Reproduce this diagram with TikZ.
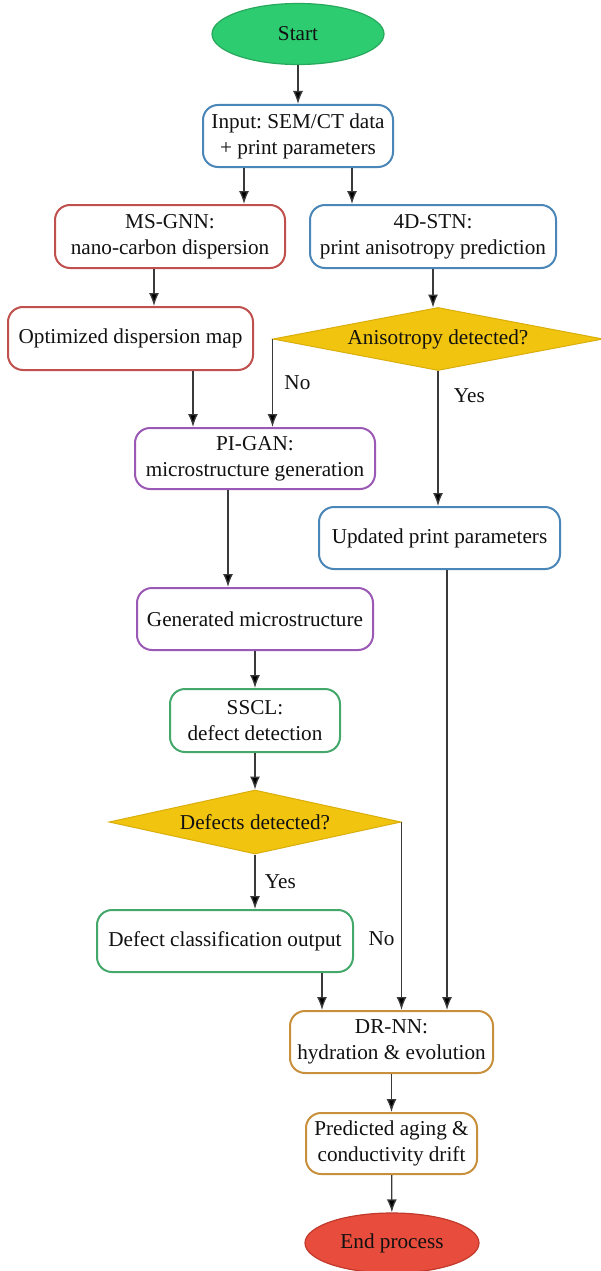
\documentclass[tikz,border=0pt]{standalone}
\usepackage{fontspec}
\setmainfont{Liberation Serif}
\usetikzlibrary{shapes.geometric,arrows.meta}
\definecolor{cblue}{HTML}{4A86B8}
\definecolor{cred}{HTML}{C0504D}
\definecolor{cpurple}{HTML}{9B59B6}
\definecolor{cgreen}{HTML}{45A86B}
\definecolor{corange}{HTML}{C8903C}
\definecolor{cyellow}{HTML}{F1C40F}
\definecolor{cyellowd}{HTML}{D9AE0C}
\definecolor{cstart}{HTML}{2ECC71}
\definecolor{cstartd}{HTML}{27A85C}
\definecolor{cend}{HTML}{E74C3C}
\definecolor{cendd}{HTML}{C0392B}
\definecolor{ctext}{HTML}{111111}
\definecolor{cline}{HTML}{3A3A3A}
\tikzset{
  every node/.style={font=\fontsize{21.2}{26}\selectfont\frenchspacing, text=ctext, align=center},
  box/.style={draw, rounded corners=15pt, line width=2pt, fill=white, inner sep=0pt},
  term/.style={ellipse, draw, line width=1.2pt, inner sep=0pt},
  decision/.style={diamond, draw=cyellowd, fill=cyellow, line width=1pt, inner sep=0pt},
  arr/.style={draw=cline, line width=1.3pt, -{Latex[length=13pt,width=10pt,fill=black]}},
  lbl/.style={font=\fontsize{21.2}{26}\selectfont}
}
\begin{document}
\begin{tikzpicture}[x=1pt,y=-1pt]
\useasboundingbox (0,0) rectangle (601,1271);
% nodes
\node[term, fill=cstart, draw=cstartd, minimum width=172, minimum height=61] (start) at (298,34) {Start};
\node[box, draw=cblue, minimum width=190, minimum height=62] (input) at (298,136) {Input: SEM/CT data\\+ print parameters};
\node[box, draw=cred, minimum width=230, minimum height=63] (msgnn) at (170,236.5) {MS-GNN:\\nano-carbon dispersion};
\node[box, draw=cblue, minimum width=246, minimum height=63] (stn) at (433,236.5) {4D-STN:\\print anisotropy prediction};
\node[box, draw=cred, minimum width=245, minimum height=63] (opt) at (130.5,338.5) {Optimized dispersion map};
\node[decision, minimum width=330, minimum height=63] (an) at (438,339) {};
\node (antext) at (an) {Anisotropy detected?};
\node[box, draw=cpurple, minimum width=240, minimum height=61] (pigan) at (255,458.5) {PI-GAN:\\microstructure generation};
\node[box, draw=cblue, minimum width=241, minimum height=62] (upd) at (439.5,538) {Updated print parameters};
\node[box, draw=cpurple, minimum width=236, minimum height=62] (gen) at (255,619) {Generated microstructure};
\node[box, draw=cgreen, minimum width=170, minimum height=63] (sscl) at (255,720.5) {SSCL:\\defect detection};
\node[decision, minimum width=292, minimum height=64] (def) at (255,822) {};
\node (deftext) at (def) {Defects detected?};
\node[box, draw=cgreen, minimum width=256, minimum height=62] (dc) at (225,941) {Defect classification output};
\node[box, draw=corange, minimum width=203, minimum height=62] (drnn) at (391.5,1042) {DR-NN:\\hydration \& evolution};
\node[box, draw=corange, minimum width=171, minimum height=61] (pred) at (391.5,1143.5) {Predicted aging \&\\conductivity drift};
\node[term, fill=cend, draw=cendd, minimum width=174, minimum height=60] (end) at (392,1243) {End process};
% connectors
\draw[arr] (start) -- (input);
\draw[arr] (input.south -| 244,0) -- (msgnn.north -| 244,0);
\draw[arr] (input.south -| 352,0) -- (stn.north -| 352,0);
\draw[arr] (msgnn.south -| 154,0) -- (opt.north -| 154,0);
\draw[arr] (stn.south -| 433,0) -- (433,307.5);
\draw[arr] (opt.south -| 193,0) -- (pigan.north -| 193,0);
\draw[arr] (an.west) -- (an.west |- pigan.north) node[pos=0.5, right=8pt, lbl] {No};
\draw[arr] (an.south) -- (an.south |- upd.north) node[pos=0.18, right=12pt, lbl] {Yes};
\draw[arr] (pigan.south -| 228,0) -- (gen.north -| 228,0);
\draw[arr] (gen) -- (sscl);
\draw[arr] (sscl) -- (def);
\draw[arr] (def.south) -- (def.south |- dc.north) node[pos=0.5, right=6pt, lbl] {Yes};
\draw[arr] (def.east) -- (def.east |- drnn.north) node[pos=0.62, left=3pt, lbl] {No};
\draw[arr] (dc.south -| 322,0) -- (drnn.north -| 322,0);
\draw[arr] (upd.south -| 447,0) -- (drnn.north -| 447,0);
\draw[arr] (drnn) -- (pred);
\draw[arr] (pred) -- (end);
\end{tikzpicture}
\end{document}
